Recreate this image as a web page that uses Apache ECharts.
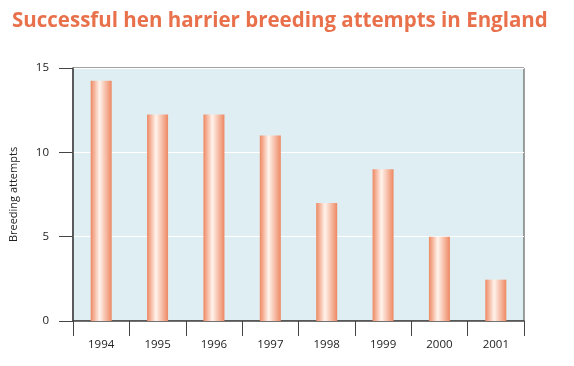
<!DOCTYPE html>
<html><head><meta charset="utf-8">
<script src="https://cdn.jsdelivr.net/npm/echarts@6/dist/echarts.min.js"></script>
<style>html,body{margin:0;padding:0;background:#fff}#c{width:574px;height:366px}</style>
</head><body><div id="c"></div>
<script>
const years = ['1994','1995','1996','1997','1998','1999','2000','2001'];
const attempts = [14.25, 12.25, 12.25, 11, 7, 9, 5, 2.45];
const yTicks = [0, 5, 10, 15];

const chart = echarts.init(document.getElementById('c'), null, {renderer:'canvas'});
const barGrad = new echarts.graphic.LinearGradient(0,0,1,0,[
  {offset:0,color:'#ee8862'},
  {offset:0.42,color:'#fff3ec'},
  {offset:1,color:'#ee8862'}
]);
chart.setOption({
  animation:false,
  title:{text:'Successful hen harrier breeding attempts in England',left:7,top:6,
    textStyle:{color:'#e8714c',fontFamily:'Open Sans',fontWeight:'bold',fontSize:20.5}},
  grid:{left:72,right:50,top:68,bottom:45,show:true,backgroundColor:'#deeef2',borderColor:'#444',borderWidth:1},
  xAxis:{type:'category',data:years,
    axisLine:{lineStyle:{color:'#444',width:1.5}},
    axisTick:{show:true,interval:0,alignWithLabel:false,length:15,lineStyle:{color:'#444',width:1}},
    axisLabel:{color:'#222',fontFamily:'Open Sans',fontSize:11.5,margin:18}},
  yAxis:{type:'value',min:0,max:15,interval:5,
    name:'Breeding attempts',nameLocation:'middle',nameGap:54,
    nameTextStyle:{color:'#222',fontFamily:'Open Sans',fontSize:11},
    axisLine:{show:true,lineStyle:{color:'#444',width:1.5}},
    axisTick:{show:true,length:14,lineStyle:{color:'#444',width:1}},
    axisLabel:{color:'#222',fontFamily:'Open Sans',fontSize:11.5,margin:24,
      formatter:v=>yTicks.includes(v)?String(v):''},
    splitLine:{lineStyle:{color:'#ffffff',width:1}}},
  series:[{type:'bar',data:attempts,barWidth:21,itemStyle:{color:barGrad}}]
});
</script></body></html>
